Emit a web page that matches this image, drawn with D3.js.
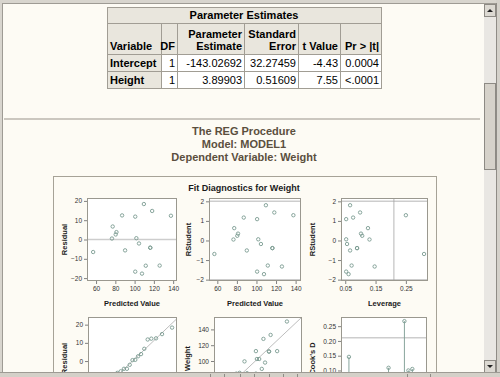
<!DOCTYPE html>
<html>
<head>
<meta charset="utf-8">
<script src="https://cdn.jsdelivr.net/npm/d3@7"></script>
<title>Fit Diagnostics for Weight</title>
<style>
  body { margin: 0; background: #fdfbf4; }
  svg { display: block; font-family: "Liberation Sans", Arial, sans-serif; }
  .axis path.domain { display: none; }
  .axis line { stroke: #808080; }
  .axis text { font-size: 6.5px; fill: #333; font-family: "Liberation Sans", Arial, sans-serif; }
</style>
</head>
<body>
<div id="container"></div>
<script>
// ---- Parameter Estimates table
var paramVars = ["Intercept", "Height"];
var paramDF = ["1", "1"];
var paramEst = ["-143.02692", "3.89903"];
var paramSE = ["32.27459", "0.51609"];
var paramT = ["-4.43", "7.55"];
var paramP = ["0.0004", "<.0001"];

// ---- diagnostics, one value per observation
var obsNum = [1, 2, 3, 4, 5, 6, 7, 8, 9, 10, 11, 12, 13, 14, 15, 16, 17, 18, 19];
var predicted = [126.01, 77.27, 111.58, 101.83, 104.56, 80.39, 90.14, 100.66, 100.66, 87.02, 56.99, 107.68, 76.49, 116.26, 137.70, 109.63, 118.21, 81.17, 116.26];
var residual = [-13.51, 6.73, -13.58, 0.67, -2.06, 2.61, -5.63, 11.84, -16.66, 12.48, -6.49, -17.68, 0.51, -4.26, 12.30, 18.37, 14.79, 3.83, -4.26];
var rstudent = [-1.33, 0.63, -1.28, 0.06, -0.18, 0.24, -0.51, 1.09, -1.59, 1.17, -0.69, -1.72, 0.05, -0.39, 1.29, 1.80, 1.43, 0.35, -0.39];
var leverage = [0.147, 0.125, 0.071, 0.053, 0.056, 0.106, 0.066, 0.053, 0.053, 0.076, 0.310, 0.061, 0.130, 0.089, 0.250, 0.066, 0.099, 0.102, 0.089];
var weight = [112.5, 84, 98, 102.5, 102.5, 83, 84.5, 112.5, 84, 99.5, 50.5, 90, 77, 112, 150, 128, 133, 85, 112];
var cooksD = [0.146, 0.029, 0.060, 0.000, 0.001, 0.004, 0.010, 0.033, 0.065, 0.055, 0.109, 0.086, 0.000, 0.008, 0.267, 0.100, 0.105, 0.007, 0.008];
var qqQuantile = [-1.85, -1.38, -1.10, -0.88, -0.71, -0.55, -0.40, -0.26, -0.13, 0, 0.13, 0.26, 0.40, 0.55, 0.71, 0.88, 1.10, 1.38, 1.85];
var qqResidual = [-17.68, -16.66, -13.58, -13.51, -6.49, -5.63, -4.26, -4.26, -2.06, 0.51, 0.67, 2.61, 3.83, 6.73, 11.84, 12.30, 12.48, 14.79, 18.37];

// reference lines
var rstudentLimits = [-2, 2];
var leverageCut = 0.2105;
var cooksCut = 0.2105;
var qqLineX = [-2.08, 2.08];
var qqLineY = [-23.35, 23.35];

// tick labels
var residTicks = [-20, -10, 0, 10, 20];
var predTicks = [60, 80, 100, 120, 140];
var rstudTicks = [-2, -1, 0, 1, 2];
var levTicks = [0.05, 0.15, 0.25];
var quantTicks = [-2, -1, 0, 1, 2];
var weightTicks = [60, 80, 100, 120, 140];
var cookTicks = [0, 0.05, 0.10, 0.15, 0.20, 0.25];
var obsTicks = [0, 5, 10, 15, 20];

var W = 500, H = 377;
var visibleBottom = 373;   // status bar hides everything below
var markColor = "#7a9b91", refColor = "#cdcdcd";

var svg = d3.select("#container").append("svg")
    .attr("width", W).attr("height", H);

svg.append("rect").attr("width", W).attr("height", H).attr("fill", "#fdfbf4");

// ---------- table
var colX = [107, 161, 177, 244, 298, 340, 381];
var rowY = [7, 23, 54, 71, 88];
var hdrFill = "#e9e6dd", gridColor = "#a19d94";
var tbl = svg.append("g").attr("font-size", "11px").attr("fill", "#000");

function cell(x0, x1, y0, y1, fill) {
    tbl.append("rect").attr("x", x0 + 0.5).attr("y", y0 + 0.5)
        .attr("width", x1 - x0).attr("height", y1 - y0)
        .attr("fill", fill).attr("stroke", gridColor);
}
function txt(s, x, y, anchor, bold) {
    tbl.append("text").attr("x", x).attr("y", y).attr("text-anchor", anchor)
        .attr("font-weight", bold ? "bold" : "normal").text(s);
}

cell(colX[0], colX[6], rowY[0], rowY[1], hdrFill);
txt("Parameter Estimates", (colX[0] + colX[6]) / 2, rowY[0] + 12, "middle", true);

var headTop = ["", "", "Parameter", "Standard", "", ""];
var headBot = ["Variable", "DF", "Estimate", "Error", "t Value", "Pr > |t|"];
for (var c = 0; c < 6; c++) {
    cell(colX[c], colX[c + 1], rowY[1], rowY[2], hdrFill);
    if (c === 0) txt(headBot[c], colX[c] + 3, rowY[2] - 4, "start", true);
    else {
        if (headTop[c]) txt(headTop[c], colX[c + 1] - 2, rowY[2] - 16.5, "end", true);
        txt(headBot[c], colX[c + 1] - 2, rowY[2] - 4, "end", true);
    }
}
paramVars.forEach(function (v, i) {
    var y0 = rowY[2 + i], y1 = rowY[3 + i];
    var vals = [paramDF[i], paramEst[i], paramSE[i], paramT[i], paramP[i]];
    cell(colX[0], colX[1], y0, y1, hdrFill);
    txt(v, colX[0] + 3, y1 - 4.5, "start", true);
    vals.forEach(function (s, j) {
        cell(colX[j + 1], colX[j + 2], y0, y1, "#ffffff");
        txt(s, colX[j + 2] - 2, y1 - 4.5, "end", false);
    });
});

// separator
svg.append("line").attr("x1", 4).attr("x2", 480).attr("y1", 119).attr("y2", 119)
    .attr("stroke", "#cbc7bf").attr("stroke-width", 2);

// titles
var titles = ["The REG Procedure", "Model: MODEL1", "Dependent Variable: Weight"];
svg.selectAll(".title").data(titles).enter().append("text")
    .attr("class", "title")
    .attr("x", 244).attr("y", function (d, i) { return 135 + i * 13; })
    .attr("text-anchor", "middle").attr("font-size", "11px").attr("font-weight", "bold")
    .attr("fill", "#5b4f3e").text(function (d) { return d; });

// ---------- graph frame
svg.append("rect").attr("x", 53.5).attr("y", 176.5).attr("width", 383).attr("height", 260)
    .attr("fill", "#fdfbf4").attr("stroke", "#a6a297");
svg.append("text").attr("x", 244).attr("y", 191).attr("text-anchor", "middle")
    .attr("font-size", "9px").attr("font-weight", "bold").attr("fill", "#1a1a1a")
    .text("Fit Diagnostics for Weight");

function panel(p) {
    var g = svg.append("g").attr("transform", "translate(" + p.x + "," + p.y + ")");
    var sx = d3.scaleLinear().domain(p.xDomain).range([0, p.w]);
    var sy = d3.scaleLinear().domain(p.yDomain).range([p.h, 0]);
    g.append("rect").attr("width", p.w).attr("height", p.h).attr("fill", "#ffffff");

    // only the ticks that are not hidden under the status bar
    var yTicks = p.yTicks.filter(function (v) { return p.y + sy(v) < visibleBottom; });
    if (p.y + p.h + 10 < visibleBottom) {
        g.append("g").attr("class", "axis").attr("transform", "translate(0," + p.h + ")")
            .call(d3.axisBottom(sx).tickValues(p.xTicks).tickSize(3).tickSizeOuter(0)
                .tickPadding(2).tickFormat(p.xFmt || d3.format("d")));
        svg.append("text").attr("x", p.x + p.w / 2).attr("y", p.y + p.h + 25)
            .attr("text-anchor", "middle").attr("font-size", "7.5px").attr("font-weight", "bold")
            .attr("fill", "#1a1a1a").text(p.xLabel);
    }
    g.append("g").attr("class", "axis")
        .call(d3.axisLeft(sy).tickValues(yTicks).tickSize(3).tickSizeOuter(0)
            .tickPadding(2).tickFormat(p.yFmt || d3.format("d")));

    var inner = g.append("g");
    p.draw(inner, sx, sy);

    g.append("rect").attr("x", 0.5).attr("y", 0.5).attr("width", p.w - 1).attr("height", p.h - 1)
        .attr("fill", "none").attr("stroke", "#9a988f");

    svg.append("text")
        .attr("transform", "translate(" + p.yLabelX + "," + (p.y + p.h / 2) + ") rotate(-90)")
        .attr("text-anchor", "middle").attr("font-size", "7.5px").attr("font-weight", "bold")
        .attr("fill", "#1a1a1a").text(p.yLabel);
}

function dots(g, xs, ys, sx, sy) {
    g.selectAll(".pt").data(xs).enter().append("circle")
        .attr("cx", function (d) { return sx(d); })
        .attr("cy", function (d, i) { return sy(ys[i]); })
        .attr("r", 1.7).attr("fill", "none").attr("stroke", markColor).attr("stroke-width", 0.9);
}
function hline(g, v, sx, sy, color, w) {
    g.append("line").attr("x1", sx.range()[0]).attr("x2", sx.range()[1])
        .attr("y1", sy(v)).attr("y2", sy(v)).attr("stroke", color).attr("stroke-width", w);
}

// row 1
panel({
    x: 87, y: 198, w: 90, h: 83, xDomain: [50.6, 144], yDomain: [-21.5, 21.5],
    xTicks: predTicks, yTicks: residTicks, xLabel: "Predicted Value", yLabel: "Residual", yLabelX: 67,
    draw: function (g, sx, sy) {
        hline(g, 0, sx, sy, refColor, 1.5);
        dots(g, predicted, residual, sx, sy);
    }
});
panel({
    x: 209, y: 198, w: 92, h: 83, xDomain: [51.5, 145.5], yDomain: [-2.07, 2.17],
    xTicks: predTicks, yTicks: rstudTicks, xLabel: "Predicted Value", yLabel: "RStudent", yLabelX: 191,
    draw: function (g, sx, sy) {
        rstudentLimits.forEach(function (v) { hline(g, v, sx, sy, refColor, 1.5); });
        dots(g, predicted, rstudent, sx, sy);
    }
});
panel({
    x: 341, y: 198, w: 87, h: 83, xDomain: [0.036, 0.323], yDomain: [-2.07, 2.17],
    xTicks: levTicks, yTicks: rstudTicks, xFmt: d3.format(".2f"),
    xLabel: "Leverage", yLabel: "RStudent", yLabelX: 315,
    draw: function (g, sx, sy) {
        rstudentLimits.forEach(function (v) { hline(g, v, sx, sy, refColor, 1.5); });
        g.append("line").attr("x1", sx(leverageCut)).attr("x2", sx(leverageCut))
            .attr("y1", 0).attr("y2", sy.range()[0]).attr("stroke", "#a5a5a5").attr("stroke-width", 0.8);
        dots(g, leverage, rstudent, sx, sy);
    }
});

// row 2 (only its upper part is visible)
panel({
    x: 88, y: 317, w: 89, h: 83, xDomain: [-2.08, 2.08], yDomain: [-21.4, 24.2],
    xTicks: quantTicks, yTicks: residTicks, xLabel: "Quantile", yLabel: "Residual", yLabelX: 67,
    draw: function (g, sx, sy) {
        g.append("line").attr("x1", sx(qqLineX[0])).attr("x2", sx(qqLineX[1]))
            .attr("y1", sy(qqLineY[0])).attr("y2", sy(qqLineY[1]))
            .attr("stroke", "#b5b5b5").attr("stroke-width", 0.9);
        dots(g, qqQuantile, qqResidual, sx, sy);
    }
});
panel({
    x: 214, y: 317, w: 88, h: 83, xDomain: [50.6, 155.7], yDomain: [50.6, 155.7],
    xTicks: predTicks, yTicks: weightTicks, xLabel: "Predicted Value", yLabel: "Weight", yLabelX: 190,
    draw: function (g, sx, sy) {
        g.append("line").attr("x1", sx(50.6)).attr("x2", sx(155.7))
            .attr("y1", sy(50.6)).attr("y2", sy(155.7))
            .attr("stroke", "#b5b5b5").attr("stroke-width", 0.9);
        dots(g, predicted, weight, sx, sy);
    }
});
panel({
    x: 341, y: 317, w: 86, h: 83, xDomain: [-1, 20.7], yDomain: [0, 0.281],
    xTicks: obsTicks, yTicks: cookTicks, yFmt: d3.format(".2f"),
    xLabel: "Observation", yLabel: "Cook's D", yLabelX: 315,
    draw: function (g, sx, sy) {
        hline(g, cooksCut, sx, sy, refColor, 1.5);
        g.selectAll(".spike").data(obsNum).enter().append("line")
            .attr("x1", function (d) { return sx(d); }).attr("x2", function (d) { return sx(d); })
            .attr("y1", sy(0)).attr("y2", function (d, i) { return sy(cooksD[i]); })
            .attr("stroke", markColor).attr("stroke-width", 0.9);
        dots(g, obsNum, cooksD, sx, sy);
    }
});

// ---------- window chrome
var chrome = svg.append("g");
chrome.append("rect").attr("x", 0).attr("y", 0).attr("width", W).attr("height", 3).attr("fill", "#d8d5ce");
chrome.append("line").attr("x1", 0).attr("x2", W).attr("y1", 3.5).attr("y2", 3.5).attr("stroke", "#9e9b94");
chrome.append("rect").attr("x", 0).attr("y", 0).attr("width", 2).attr("height", H).attr("fill", "#d8d5ce");
chrome.append("line").attr("x1", 2.5).attr("x2", 2.5).attr("y1", 3).attr("y2", H).attr("stroke", "#9e9b94");

// scrollbar
chrome.append("rect").attr("x", 484).attr("y", 4).attr("width", 12).attr("height", 369).attr("fill", "#e9e7e3");
function sbButton(y, up) {
    chrome.append("rect").attr("x", 484.5).attr("y", y + 0.5).attr("width", 11).attr("height", 12)
        .attr("fill", "#dcd9d2").attr("stroke", "#8d8a84");
    var cx = 490, cy = y + 6.5;
    var pts = up ? [[cx - 3, cy + 1.5], [cx + 3, cy + 1.5], [cx, cy - 1.5]]
                 : [[cx - 3, cy - 1.5], [cx + 3, cy - 1.5], [cx, cy + 1.5]];
    chrome.append("polygon").attr("points", pts.map(function (p) { return p.join(","); }).join(" "))
        .attr("fill", "#222");
}
sbButton(4, true);
sbButton(360, false);
chrome.append("rect").attr("x", 484.5).attr("y", 83.5).attr("width", 11).attr("height", 86)
    .attr("fill", "#d6d2ca").attr("stroke", "#8d8a84");
chrome.append("rect").attr("x", 496).attr("y", 0).attr("width", 4).attr("height", H).attr("fill", "#d4d1ca");
chrome.append("line").attr("x1", 496.5).attr("x2", 496.5).attr("y1", 3).attr("y2", H).attr("stroke", "#8f8c86");

// status bar
chrome.append("rect").attr("x", 0).attr("y", 373).attr("width", W).attr("height", 4).attr("fill", "#d4d0c8");
chrome.append("line").attr("x1", 0).attr("x2", W).attr("y1", 372.5).attr("y2", 372.5).attr("stroke", "#9e9b94");
var statusDividers = [210, 224, 240, 254, 269, 283, 297, 407, 430];
statusDividers.forEach(function (x) {
    chrome.append("line").attr("x1", x + 0.5).attr("x2", x + 0.5).attr("y1", 374).attr("y2", H)
        .attr("stroke", "#8f8c86");
});
</script>
</body>
</html>
